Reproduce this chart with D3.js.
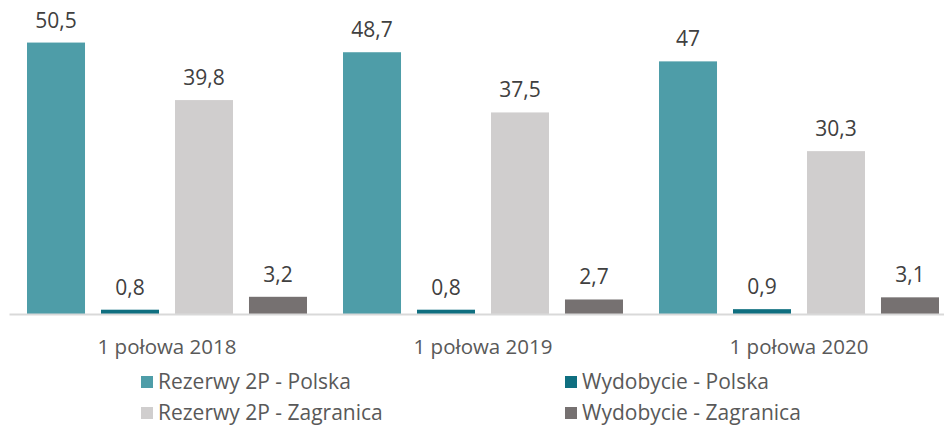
<!DOCTYPE html>
<html>
<head>
<meta charset="utf-8">
<script src="https://cdn.jsdelivr.net/npm/d3@7"></script>
<style>
  body { margin: 0; background: #fff; }
  svg { display: block; font-family: "Open Sans", sans-serif; }
</style>
</head>
<body>
<script>
// data
var categories = ["1 połowa 2018", "1 połowa 2019", "1 połowa 2020"];
var seriesNames = ["Rezerwy 2P - Polska", "Wydobycie - Polska", "Rezerwy 2P - Zagranica", "Wydobycie - Zagranica"];
var seriesColors = ["#4e9da8", "#0f6f80", "#d0cece", "#767171"];
var rezerwyPolska = [50.5, 48.7, 47];
var wydobyciePolska = [0.8, 0.8, 0.9];
var rezerwyZagranica = [39.8, 37.5, 30.3];
var wydobycieZagranica = [3.2, 2.7, 3.1];

var seriesValues = [rezerwyPolska, wydobyciePolska, rezerwyZagranica, wydobycieZagranica];

var width = 944, height = 430;
var baseline = 314;

var _svg = d3.select("body")
             .append("svg")
             .attr("width", width)
             .attr("height", height);

//group scale and bar scale inside each group
var x0 = d3.scaleBand()
           .domain(categories)
           .range([9, 957]);

var x1 = d3.scaleBand()
           .domain(d3.range(seriesNames.length))
           .range([18, x0.bandwidth() - 18])
           .paddingInner(0.216)
           .paddingOuter(0);

var yScale = d3.scaleLinear()
               .domain([0, 55])
               .range([baseline, baseline - 55 * 5.375]);

var groups = _svg.selectAll("g.group")
   .data(categories)
   .enter()
   .append("g")
   .attr("class", "group")
   .attr("transform", function(d){ return "translate(" + x0(d) + ",0)"; });

groups.selectAll("rect")
   .data(function(d, i){ return seriesValues.map(function(s, j){ return {s: j, v: s[i]}; }); })
   .enter()
   .append("rect")
   .attr("x", function(d){ return x1(d.s); })
   .attr("width", x1.bandwidth())
   .attr("y", function(d){ return yScale(d.v); })
   .attr("height", function(d){ return baseline - yScale(d.v); })
   .attr("fill", function(d){ return seriesColors[d.s]; });

//value labels over the bars, polish decimal comma
groups.selectAll("text.val")
   .data(function(d, i){ return seriesValues.map(function(s, j){ return {s: j, v: s[i]}; }); })
   .enter()
   .append("text")
   .attr("class", "val")
   .attr("x", function(d){ return x1(d.s) + x1.bandwidth() / 2; })
   .attr("y", function(d){ return yScale(d.v) - 15; })
   .attr("text-anchor", "middle")
   .attr("font-size", 21)
   .attr("fill", "#404040")
   .text(function(d){ return String(d.v).replace(".", ","); });

//x axis
var xAxis = d3.axisBottom(x0).tickSize(0).tickPadding(0);
var axisG = _svg.append("g")
   .attr("transform", "translate(0," + baseline + ")")
   .call(xAxis);
axisG.select(".domain")
   .attr("stroke", "#d9d9d9")
   .attr("stroke-width", 2);
axisG.selectAll(".tick text")
   .attr("y", 40)
   .attr("dy", 0)
   .attr("font-size", 20.5)
   .attr("font-family", "Open Sans, sans-serif")
   .attr("fill", "#595959");

//legend, two columns
var legend = _svg.append("g")
   .selectAll("g")
   .data(seriesNames)
   .enter()
   .append("g")
   .attr("transform", function(d, i){
       var col = i % 2, row = Math.floor(i / 2);
       return "translate(" + (141 + col * 424) + "," + (376 + row * 31) + ")";
   });

legend.append("rect")
   .attr("width", 12)
   .attr("height", 12)
   .attr("fill", function(d, i){ return seriesColors[i]; });

legend.append("text")
   .attr("x", 17)
   .attr("y", 13)
   .attr("font-size", 21)
   .attr("fill", "#595959")
   .text(function(d){ return d; });
</script>
</body>
</html>
